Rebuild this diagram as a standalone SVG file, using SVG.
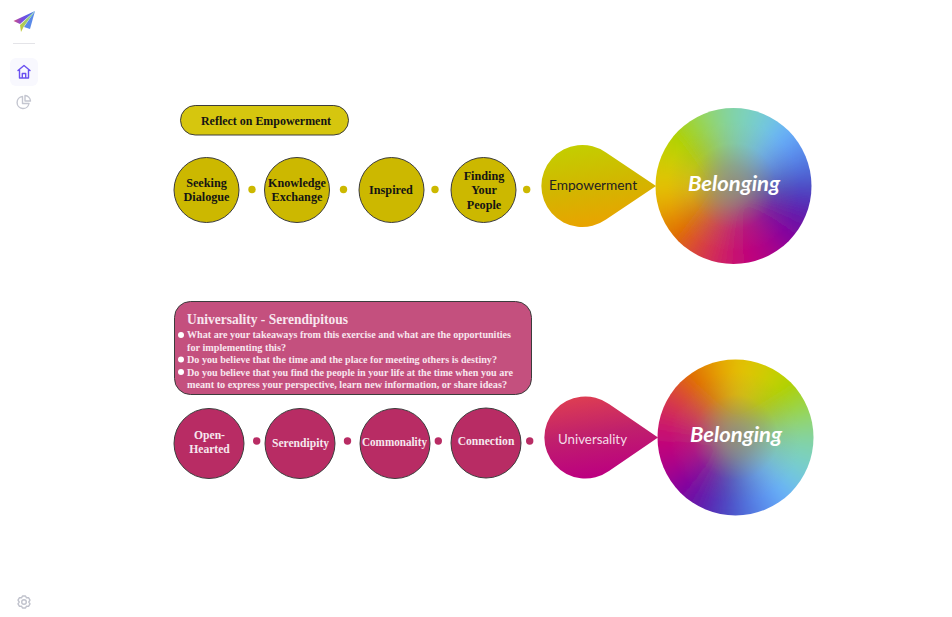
<svg xmlns="http://www.w3.org/2000/svg" width="952" height="617" viewBox="0 0 952 617">
<style>
.s{font-family:"Liberation Serif","DejaVu Serif",serif;font-weight:700;text-anchor:middle}
.k{font-size:12.2px;fill:#141414}
.w{font-size:11.6px;fill:#f6e8ee}
.b{font-size:10.6px;fill:#f8e6ee;text-anchor:start}
.n{stroke:#3c3c3c;stroke-width:1}
.y{fill:#ccb800}.m{fill:#b82c64}
.d1{fill:#ccb800}.d2{fill:#b82c64}
.lb{font-family:Lato,"Open Sans",sans-serif;font-size:13.700px;text-anchor:middle}
.bl{font-family:Lato,"Open Sans",sans-serif;font-size:21.500px;font-weight:700;font-style:italic;fill:#fff;text-anchor:middle}
.ic{fill:none;stroke-width:1.4;stroke-linecap:round;stroke-linejoin:round}
</style>
<defs>
<filter id="blur" x="-20%" y="-20%" width="140%" height="140%"><feGaussianBlur stdDeviation="9"/></filter>
<clipPath id="disc"><circle r="78"/></clipPath>
<radialGradient id="core"><stop offset="0" stop-color="#8c8c78" stop-opacity=".95"/><stop offset=".3" stop-color="#8c8c78" stop-opacity=".65"/><stop offset=".65" stop-color="#8c8c78" stop-opacity=".15"/><stop offset="1" stop-color="#8c8c78" stop-opacity="0"/></radialGradient>
<g id="wheel">
<g filter="url(#blur)">
<path d="M0 0L-17 -130L17 -130Z" fill="#7fd2a8"/>
<path d="M0 0L-17 -130L17 -130Z" fill="#78cfc4" transform="rotate(15)"/>
<path d="M0 0L-17 -130L17 -130Z" fill="#70c4e0" transform="rotate(30)"/>
<path d="M0 0L-17 -130L17 -130Z" fill="#66aef8" transform="rotate(45)"/>
<path d="M0 0L-17 -130L17 -130Z" fill="#5a90ee" transform="rotate(60)"/>
<path d="M0 0L-17 -130L17 -130Z" fill="#5070dc" transform="rotate(75)"/>
<path d="M0 0L-17 -130L17 -130Z" fill="#4a48c4" transform="rotate(90)"/>
<path d="M0 0L-17 -130L17 -130Z" fill="#5428b4" transform="rotate(105)"/>
<path d="M0 0L-17 -130L17 -130Z" fill="#6c08a4" transform="rotate(120)"/>
<path d="M0 0L-17 -130L17 -130Z" fill="#88009a" transform="rotate(135)"/>
<path d="M0 0L-17 -130L17 -130Z" fill="#a80088" transform="rotate(150)"/>
<path d="M0 0L-17 -130L17 -130Z" fill="#bc007c" transform="rotate(165)"/>
<path d="M0 0L-17 -130L17 -130Z" fill="#c81070" transform="rotate(180)"/>
<path d="M0 0L-17 -130L17 -130Z" fill="#d02858" transform="rotate(195)"/>
<path d="M0 0L-17 -130L17 -130Z" fill="#d84038" transform="rotate(210)"/>
<path d="M0 0L-17 -130L17 -130Z" fill="#de6000" transform="rotate(225)"/>
<path d="M0 0L-17 -130L17 -130Z" fill="#e28400" transform="rotate(240)"/>
<path d="M0 0L-17 -130L17 -130Z" fill="#e4a800" transform="rotate(255)"/>
<path d="M0 0L-17 -130L17 -130Z" fill="#e2c000" transform="rotate(270)"/>
<path d="M0 0L-17 -130L17 -130Z" fill="#d4c800" transform="rotate(285)"/>
<path d="M0 0L-17 -130L17 -130Z" fill="#bfd000" transform="rotate(300)"/>
<path d="M0 0L-17 -130L17 -130Z" fill="#a8d000" transform="rotate(315)"/>
<path d="M0 0L-17 -130L17 -130Z" fill="#98d440" transform="rotate(330)"/>
<path d="M0 0L-17 -130L17 -130Z" fill="#8cd47c" transform="rotate(345)"/>
</g>
<circle r="66" fill="url(#core)"/>
</g>
<linearGradient id="t1" x1="0.1" y1="0" x2="0.3" y2="1"><stop offset="0" stop-color="#c2d000"/><stop offset=".55" stop-color="#d2b600"/><stop offset="1" stop-color="#e8a400"/></linearGradient>
<linearGradient id="t2" x1="0.1" y1="0" x2="0.3" y2="1"><stop offset="0" stop-color="#e04050"/><stop offset=".5" stop-color="#c0206c"/><stop offset="1" stop-color="#bc0080"/></linearGradient>
<linearGradient id="lg1" x1="0" y1="0" x2="1" y2="0"><stop offset="0" stop-color="#d05080"/><stop offset=".4" stop-color="#7a48e0"/><stop offset="1" stop-color="#3a80e8"/></linearGradient>
<linearGradient id="lg2" x1="0" y1="1" x2="1" y2="0"><stop offset="0" stop-color="#c8c830"/><stop offset="1" stop-color="#70d0b0"/></linearGradient>
</defs>

<g id="sidebar">
<g id="logo">
<polygon points="35,11 13.500,21 20,24" fill="url(#lg1)"/>
<polygon points="35,11 20,25 21,32 23.500,27" fill="url(#lg2)"/>
<polygon points="35,11 24,27 30,29" fill="#5a8ae8"/>
</g>
<rect x="13" y="43" width="22" height="1" fill="#e4e4e8"/>
<rect x="10" y="58" width="28" height="28" rx="6" fill="#f8f8fe"/>
<g class="ic" stroke="#6a50f0"><path d="M18 70.500L24 65.500L30 70.500M19.500 69.500V78H28.500V69.500M22.300 78V73.500H25.700V78"/></g>
<g class="ic" stroke="#c4c6d0"><path d="M22.500 96.500A6 6 0 1 0 29 103.500H22.500Z"/><path d="M25 95.500A6 6 0 0 1 30.500 101H25Z"/></g>
<g class="ic" stroke="#c0c2cc"><path d="M22.500 596L25.500 596L26.500 597.800L28.500 597.600L30 600.200L28.800 602L30 603.800L28.500 606.400L26.500 606.200L25.500 608L22.500 608L21.500 606.200L19.500 606.400L18 603.800L19.200 602L18 600.200L19.500 597.600L21.500 597.800Z"/><circle cx="24" cy="602" r="2.300"/></g>
</g>

<g id="connectors">
<circle class="d1" cx="252" cy="189.500" r="3.700"/>
<circle class="d1" cx="343.500" cy="189.500" r="3.700"/>
<circle class="d1" cx="435" cy="189.500" r="3.700"/>
<circle class="d1" cx="526.700" cy="189.500" r="3.700"/>
<circle class="d2" cx="256.700" cy="441" r="3.700"/>
<circle class="d2" cx="347.500" cy="441" r="3.700"/>
<circle class="d2" cx="438.300" cy="441" r="3.700"/>
<circle class="d2" cx="529.700" cy="441" r="3.700"/>
</g>

<g id="reflect">
<rect class="n" x="180.500" y="105.500" width="168" height="29.500" rx="14.700" fill="#d6c60e"/>
<text class="s k" x="266" y="125" textLength="130" lengthAdjust="spacingAndGlyphs">Reflect on Empowerment</text>
</g>
<g id="seeking"><circle class="n y" cx="206.500" cy="190" r="32.500"/><text class="s k" x="206.500" y="186.500">Seeking</text><text class="s k" x="206.500" y="201">Dialogue</text></g>
<g id="knowledge"><circle class="n y" cx="297" cy="190" r="32.500"/><text class="s k" x="297" y="186.500" textLength="58" lengthAdjust="spacingAndGlyphs">Knowledge</text><text class="s k" x="297" y="201">Exchange</text></g>
<g id="inspired"><circle class="n y" cx="391.500" cy="190" r="32.500"/><text class="s k" x="391" y="194">Inspired</text></g>
<g id="finding"><circle class="n y" cx="483.500" cy="190" r="32.500"/><text class="s k" x="484" y="179.500">Finding</text><text class="s k" x="484" y="194">Your</text><text class="s k" x="484" y="208.500">People</text></g>
<g id="empowerment"><path d="M656 186L606 219.500A41 41 0 1 1 606 152.500Z" fill="url(#t1)"/><text class="lb" x="593" y="190" fill="#222">Empowerment</text></g>
<g id="belonging1"><g transform="translate(733.500 186)"><g clip-path="url(#disc)"><use href="#wheel"/></g></g><text class="bl" x="734" y="190.500" textLength="92" lengthAdjust="spacingAndGlyphs">Belonging</text></g>

<g id="universality-box">
<rect class="n" x="174.500" y="301.500" width="357" height="93" rx="16" fill="#c4507e"/>
<text class="s" x="187" y="324" font-size="14" fill="#f8e6ee" style="text-anchor:start" textLength="161" lengthAdjust="spacingAndGlyphs">Universality - Serendipitous</text>
<circle cx="181" cy="335" r="3" fill="#fff"/><circle cx="181" cy="359.500" r="3" fill="#fff"/><circle cx="181" cy="372" r="3" fill="#fff"/>
<text class="s b" x="187" y="338" textLength="324" lengthAdjust="spacingAndGlyphs">What are your takeaways from this exercise and what are the opportunities</text>
<text class="s b" x="187" y="350.500" textLength="99" lengthAdjust="spacingAndGlyphs">for implementing this?</text>
<text class="s b" x="187" y="363" textLength="310" lengthAdjust="spacingAndGlyphs">Do you believe that the time and the place for meeting others is destiny?</text>
<text class="s b" x="187" y="375.500" textLength="326" lengthAdjust="spacingAndGlyphs">Do you believe that you find the people in your life at the time when you are</text>
<text class="s b" x="187" y="388" textLength="320" lengthAdjust="spacingAndGlyphs">meant to express your perspective, learn new information, or share ideas?</text>
</g>
<g id="open-hearted"><circle class="n m" cx="209" cy="443.500" r="35"/><text class="s w" x="209.500" y="439">Open-</text><text class="s w" x="209.500" y="453">Hearted</text></g>
<g id="serendipity"><circle class="n m" cx="300" cy="443.500" r="35"/><text class="s w" x="300.500" y="446.500">Serendipity</text></g>
<g id="commonality"><circle class="n m" cx="395" cy="443.500" r="35"/><text class="s w" x="394.500" y="445.500" textLength="65" lengthAdjust="spacingAndGlyphs">Commonality</text></g>
<g id="connection"><circle class="n m" cx="486" cy="443" r="35"/><text class="s w" x="486" y="445">Connection</text></g>
<g id="universality"><path d="M658 437.500L609 471A41 41 0 1 1 609 404Z" fill="url(#t2)"/><text class="lb" x="592.500" y="444" fill="#f4dce8" textLength="69" lengthAdjust="spacingAndGlyphs">Universality</text></g>
<g id="belonging2"><g transform="translate(735.500 437.500)"><g clip-path="url(#disc)"><use href="#wheel" transform="rotate(95)"/></g></g><text class="bl" x="736" y="442" textLength="92" lengthAdjust="spacingAndGlyphs">Belonging</text></g>
</svg>
